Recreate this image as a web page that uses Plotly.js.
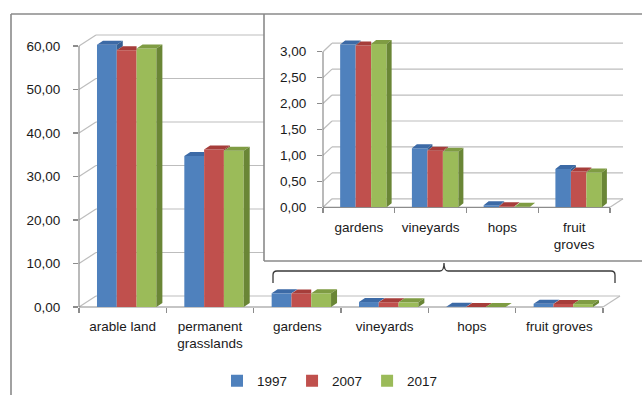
<!DOCTYPE html>
<html><head><meta charset="utf-8">
<script src="https://cdn.plot.ly/plotly-3.0.1.min.js"></script>
<style>html,body{margin:0;padding:0;background:#fff}#chart{width:642px;height:395px}</style>
</head><body><div id="chart"></div>
<script>
// ---------- data ----------
const categories = ['arable land','permanent grasslands','gardens','vineyards','hops','fruit groves'];
const mainTickText = ['arable land','permanent<br>grasslands','gardens','vineyards','hops','fruit groves'];
const insetCategories = ['gardens','vineyards','hops','fruit groves'];
const insetTickText = ['gardens','vineyards','hops','fruit<br>groves'];
const years = ['1997','2007','2017'];
const v1997 = [60.3, 34.7, 3.14, 1.14, 0.04, 0.74];
const v2007 = [59.0, 36.2, 3.12, 1.09, 0.02, 0.69];
const v2017 = [59.4, 35.9, 3.15, 1.07, 0.01, 0.67];
const mainTicks = [0,10,20,30,40,50,60];
const insetTicks = [0,0.5,1,1.5,2,2.5,3];

// ---------- styles / geometry ----------
const COLORS = [
  {front:'#4f81bd', top:'#3c6aa6', side:'#365f92'},
  {front:'#c0504d', top:'#a63d3a', side:'#8f3532'},
  {front:'#9bbb59', top:'#7f9c43', side:'#6a8636'}
];
const W=642, H=395, ML=79, MR=12, MT=28, MB=88;
const PW=W-ML-MR, PH=H-MT-MB;
const FONT='Liberation Sans, Arial, sans-serif';
const TXT='#1a1a1a', GRID='#bdbdbd', AXC='#8c8c8c';
const px2x = p => (p-ML)/PW;
const px2y = p => (H-MB-p)/PH;

const MAIN = {x0:79, kx:87.33, y0:307, ky:4.35, dpx:6, dpy:4, w:0.2267, shift:0.046, wallDx:17, wallDy:11, ncat:6};
const INS  = {x0:323, kx:71.75, y0:207.3, ky:51.87, dpx:5, dpy:4, w:0.216, shift:0.063, wallDx:9, wallDxR:13, wallDy:8.5, ncat:4, right:628, top:30};
[MAIN, INS].forEach(g => { g.offsets=[0,1,2].map(i => -1.5*g.w + g.shift + i*g.w); });

function faceTraces(series, xa, ya, g) {
  const out=[];
  const dX=g.dpx/g.kx, dY=g.dpy/g.ky;
  for (let i=0;i<3;i++){
    const tx=[],ty=[],sx=[],sy=[];
    series[i].forEach((v,c)=>{
      const xl=c+g.offsets[i], xr=xl+g.w;
      const last=(i===2), vn= last?null:series[i+1][c];
      const top = (last || v>vn) ? [[xl,v],[xl+dX,v+dY],[xr+dX,v+dY],[xr,v]]
                                 : [[xl,v],[xl+dX,v+dY],[xr,v+dY],[xr,v]];
      top.concat([top[0]]).forEach(p=>{tx.push(p[0]);ty.push(p[1]);}); tx.push(null);ty.push(null);
      let side=null;
      if (last) side=[[xr,0],[xr+dX,dY],[xr+dX,v+dY],[xr,v]];
      else if (v>vn) side=[[xr,vn],[xr+dX,vn+dY],[xr+dX,v+dY],[xr,v]];
      if (side){ side.concat([side[0]]).forEach(p=>{sx.push(p[0]);sy.push(p[1]);}); sx.push(null);sy.push(null); }
    });
    out.push({type:'scatter',mode:'lines',x:tx,y:ty,xaxis:xa,yaxis:ya,fill:'toself',fillcolor:COLORS[i].top,line:{width:0,color:COLORS[i].top},hoverinfo:'skip',showlegend:false});
    if (sx.length) out.push({type:'scatter',mode:'lines',x:sx,y:sy,xaxis:xa,yaxis:ya,fill:'toself',fillcolor:COLORS[i].side,line:{width:0,color:COLORS[i].side},hoverinfo:'skip',showlegend:false});
  }
  return out;
}

const mainSeries=[v1997,v2007,v2017];
const insetSeries=mainSeries.map(s=>s.slice(2));

const traces=[];
mainSeries.forEach((s,i)=>traces.push({type:'bar',name:years[i],x:categories.map((_,k)=>k),y:s,width:MAIN.w,offset:MAIN.offsets[i],
  marker:{color:COLORS[i].front,line:{width:0}},xaxis:'x',yaxis:'y',hoverinfo:'skip'}));
traces.push(...faceTraces(mainSeries,'x','y',MAIN));
insetSeries.forEach((s,i)=>traces.push({type:'bar',name:years[i],x:insetCategories.map((_,k)=>k),y:s,width:INS.w,offset:INS.offsets[i],
  marker:{color:COLORS[i].front,line:{width:0}},xaxis:'x2',yaxis:'y2',showlegend:false,hoverinfo:'skip'}));
traces.push(...faceTraces(insetSeries,'x2','y2',INS));

// ---------- decoration shapes (pixel geometry -> paper) ----------
const shapes=[];
function L(x0,y0,x1,y1,color,width,layer){
  shapes.push({type:'line',xref:'paper',yref:'paper',x0:px2x(x0),y0:px2y(y0),x1:px2x(x1),y1:px2y(y1),
    line:{color:color,width:width},layer:layer||'below'});
}
// main walls
const mainRight = MAIN.x0 + MAIN.ncat*MAIN.kx;
mainTicks.forEach(v=>{
  const yF=MAIN.y0 - v*MAIN.ky, yB=yF-MAIN.wallDy;
  L(MAIN.x0,yF,MAIN.x0+MAIN.wallDx,yB,GRID,1.2);
  const xEnd = (yB<262) ? 264 : mainRight+MAIN.wallDx;
  L(MAIN.x0+MAIN.wallDx,yB,xEnd,yB,GRID,1.2);
});
L(MAIN.x0, MAIN.y0-60*MAIN.ky, MAIN.x0, MAIN.y0, AXC,1.2);
L(MAIN.x0, MAIN.y0, mainRight, MAIN.y0, AXC,1.2);
L(mainRight, MAIN.y0, mainRight+MAIN.wallDx, MAIN.y0-MAIN.wallDy, GRID,1.2);
// inset walls
const insRight = INS.x0 + INS.ncat*INS.kx;
insetTicks.forEach(v=>{
  const yF=INS.y0 - v*INS.ky, yB=yF-INS.wallDy;
  L(INS.x0,yF,INS.x0+INS.wallDx,yB,GRID,1.2);
  L(INS.x0+INS.wallDx,yB,insRight+INS.wallDxR,yB,GRID,1.2);
});
L(INS.x0, INS.y0-3*INS.ky, INS.x0, INS.y0, AXC,1.2);
L(INS.x0, INS.y0, insRight, INS.y0, AXC,1.2);
L(insRight, INS.y0, insRight+INS.wallDxR, INS.y0-INS.wallDy, GRID,1.2);
// frames
L(11,14,11,400,'#8a8a8a',1.6,'above');
L(11,14,650,14,'#8a8a8a',1.6,'above');
L(264,14,264,261,'#8a8a8a',1.6,'above');
L(264,261,650,261,'#8a8a8a',1.6,'above');
// bracket
const P=(x,y)=>px2x(x)+','+px2y(y);
shapes.push({type:'path',xref:'paper',yref:'paper',layer:'above',line:{color:'#3a3a3a',width:1.3},
  path:'M'+P(273,283)+' L'+P(273,275)+' Q'+P(273,271)+' '+P(277,271)+' L'+P(440,271)+' Q'+P(444,271)+' '+P(444,263)+
       ' Q'+P(444,271)+' '+P(448,271)+' L'+P(611,271)+' Q'+P(615,271)+' '+P(615,275)+' L'+P(615,283)});

const tickfont={family:FONT,size:13.5,color:TXT};
const layout={
  width:W,height:H,margin:{l:ML,r:MR,t:MT,b:MB,autoexpand:false},
  paper_bgcolor:'#ffffff',plot_bgcolor:'rgba(0,0,0,0)',
  separators:', ',barmode:'overlay',showlegend:true,
  font:{family:FONT,size:13.5,color:TXT},
  xaxis:{range:[-0.5,-0.5+(W-MR-MAIN.x0)/MAIN.kx],tickmode:'array',tickvals:categories.map((_,k)=>k),ticktext:mainTickText,
    ticks:'',showgrid:false,zeroline:false,showline:false,tickfont:tickfont,fixedrange:true,automargin:false,ticklabelstandoff:9,
    minor:{tickmode:'array',tickvals:[-0.5,0.5,1.5,2.5,3.5,4.5,5.5],ticks:'outside',ticklen:5,tickwidth:1.2,tickcolor:AXC,showgrid:false}},
  yaxis:{range:[0,(MAIN.y0-MT)/MAIN.ky],tickmode:'array',tickvals:mainTicks,tickformat:'.2f',ticks:'outside',ticklen:5,tickwidth:1.2,
    tickcolor:AXC,showgrid:false,zeroline:false,showline:false,tickfont:tickfont,ticklabelstandoff:10,fixedrange:true,automargin:false},
  xaxis2:{anchor:'y2',domain:[px2x(INS.x0),px2x(INS.right)],range:[-0.5,-0.5+(INS.right-INS.x0)/INS.kx],tickmode:'array',
    tickvals:insetCategories.map((_,k)=>k),ticktext:insetTickText,ticks:'',showgrid:false,zeroline:false,showline:false,tickfont:tickfont,fixedrange:true,automargin:false,ticklabelstandoff:10,
    minor:{tickmode:'array',tickvals:[-0.5,0.5,1.5,2.5,3.5],ticks:'outside',ticklen:5,tickwidth:1.2,tickcolor:AXC,showgrid:false}},
  yaxis2:{anchor:'x2',domain:[px2y(INS.y0),px2y(INS.top)],range:[0,(INS.y0-INS.top)/INS.ky],tickmode:'array',tickvals:insetTicks,tickformat:'.2f',
    ticks:'outside',ticklen:5,tickwidth:1.2,tickcolor:AXC,showgrid:false,zeroline:false,showline:false,tickfont:tickfont,ticklabelstandoff:8,fixedrange:true,automargin:false},
  legend:{orientation:'h',x:px2x(330),xanchor:'center',y:px2y(381),yanchor:'middle',
    font:{family:FONT,size:13.5,color:TXT},bgcolor:'rgba(0,0,0,0)'},
  shapes:shapes
};
Plotly.newPlot('chart',traces,layout,{staticPlot:true,displayModeBar:false});
</script>
</body></html>
